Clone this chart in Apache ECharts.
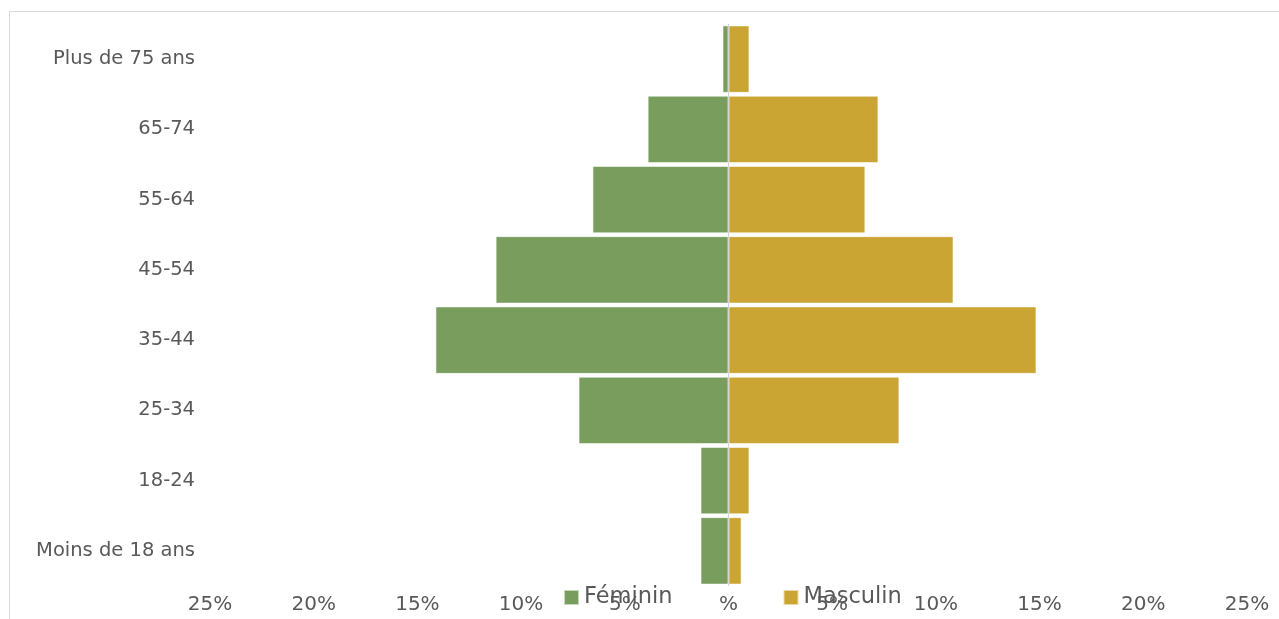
<!DOCTYPE html>
<html>
<head>
<meta charset="utf-8">
<script src="https://cdn.jsdelivr.net/npm/echarts@6/dist/echarts.min.js"></script>
<style>
html,body{margin:0;padding:0;background:#fff;}
#chart{width:1279px;height:619px;}
</style>
</head>
<body>
<div id="chart"></div>
<script>
const categories = ['Moins de 18 ans','18-24','25-34','35-44','45-54','55-64','65-74','Plus de 75 ans'];
const feminin = [1.35, 1.35, 7.23, 14.13, 11.23, 6.56, 3.9, 0.29];
const masculin = [0.63, 1.01, 8.24, 14.85, 10.85, 6.6, 7.23, 1.01];

const chart = echarts.init(document.getElementById('chart'));
const font = 'DejaVu Sans, Verdana, sans-serif';
chart.setOption({
  animation: false,
  graphic: [{
    type: 'rect', silent: true, z: -10,
    shape: {x: 9.5, y: 11.5, width: 1300, height: 700},
    style: {fill: 'none', stroke: '#d9d9d9', lineWidth: 1}
  }],
  grid: {left: 210, right: 32, top: 24, bottom: 33, containLabel: false},
  legend: {
    data: ['Féminin','Masculin'],
    left: 563, top: 586, padding: 0,
    itemWidth: 15, itemHeight: 15, itemGap: 110,
    icon: 'rect',
    textStyle: {color: '#595959', fontSize: 22.5, fontFamily: font}
  },
  xAxis: {
    type: 'value', min: -25, max: 25, interval: 5,
    axisLine: {show: false}, axisTick: {show: false},
    splitLine: {show: false},
    axisLabel: {
      color: '#595959', fontSize: 20, fontFamily: font, margin: 9,
      formatter: v => v === 0 ? '%' : Math.abs(v) + '%'
    }
  },
  yAxis: {
    type: 'category', data: categories,
    axisLine: {show: false}, axisTick: {show: false},
    axisLabel: {color: '#595959', fontSize: 19.5, fontFamily: font, margin: 15}
  },
  series: [
    {
      name: 'Féminin', type: 'bar', stack: 'total', barCategoryGap: '4%',
      data: feminin.map(v => -v),
      itemStyle: {color: '#789D5D', borderColor: 'rgba(255,255,255,0.6)', borderWidth: 1}
    },
    {
      name: 'Masculin', type: 'bar', stack: 'total', barCategoryGap: '4%',
      data: masculin,
      itemStyle: {color: '#CBA534', borderColor: 'rgba(255,255,255,0.6)', borderWidth: 1}
    },
    {
      name: 'axe', type: 'line', data: [], z: 10, silent: true,
      markLine: {
        silent: true, symbol: 'none', label: {show: false},
        lineStyle: {color: '#c8c8c8', type: 'solid', width: 1, opacity: 0.8},
        data: [{xAxis: 0}]
      }
    }
  ]
});
</script>
</body>
</html>
